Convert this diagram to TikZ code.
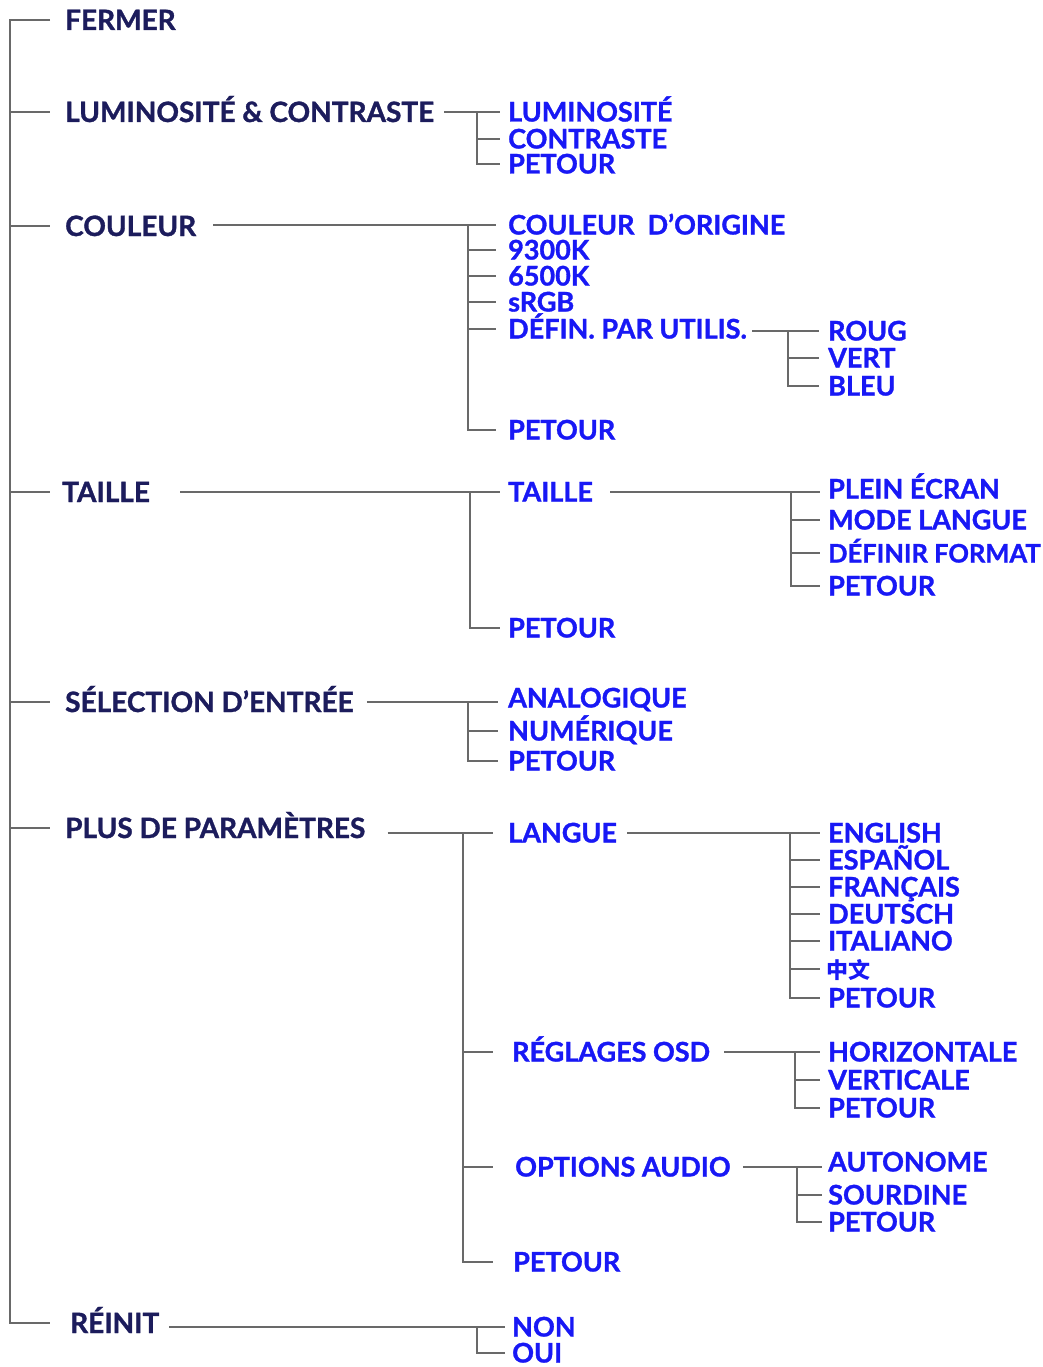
\documentclass[tikz,border=0pt]{standalone}
\usepackage{fontspec}
\setmainfont{Lato}[BoldFeatures={FakeBold=1.2}]
\newfontfamily\cjk{Noto Sans CJK SC}
\usetikzlibrary{calc}
\definecolor{navy}{RGB}{28,28,92}
\definecolor{menublue}{RGB}{24,24,245}
\definecolor{linegray}{RGB}{105,105,105}
\newcommand\apo{\char39\relax}
\newcommand\tbranch[3]{\draw[ln] (#1 |- #3.west) -- (#2 |- #3.west);}
\begin{document}
\begin{tikzpicture}[x=1pt,y=-1pt,
  ln/.style={draw=linegray,line width=1.8pt},
  txt/.style={anchor=west,inner sep=0pt,text depth=0pt},
  lvlone/.style={txt,text=navy,text height=20pt,font=\bfseries\fontsize{28}{28}\selectfont},
  lvltwo/.style={txt,text=menublue,text height=19pt,font=\bfseries\fontsize{27}{27}\selectfont}]
\path[use as bounding box] (0,0) rectangle (1042,1367);
\clip (0,0) rectangle (1042,1367);
% level 1
\node[lvlone] (fermer) at (65,20) {FERMER};
\node[lvlone] (lum) at (65,112) {LUMINOSITÉ \& CONTRASTE};
\node[lvlone] (couleur) at (65,226) {COULEUR};
\node[lvlone] (taille) at (62,492) {TAILLE};
\node[lvlone] (sel) at (65,702) {SÉLECTION D\apo ENTRÉE};
\node[lvlone] (plus) at (65,828) {PLUS DE PARAMÈTRES};
\node[lvlone] (reinit) at (70,1323) {RÉINIT};
% trunk
\coordinate (tx) at (10,0);
\coordinate (bx) at (50,0);
\draw[ln] (fermer.west -| bx) -- (fermer.west -| tx) -- (reinit.west -| tx) -- (reinit.west -| bx);
\foreach \n in {lum,couleur,taille,sel,plus}{\draw[ln] (\n.west -| tx) -- (\n.west -| bx);}
% luminosite group
\node[lvltwo] (lum1) at (508,112) {LUMINOSITÉ};
\node[lvltwo] (lum2) at (508,139) {CONTRASTE};
\node[lvltwo] (lum3) at (508,164) {PETOUR};
\coordinate (lv) at (477,0); \coordinate (le) at (500,0);
\draw[ln] ($(lum.east |- lum1.west)+(10,0)$) -- (le |- lum1.west);
\draw[ln] (lv |- lum1.west) -- (lv |- lum3.west) -- (le |- lum3.west);
\tbranch{lv}{le}{lum2}
% couleur group
\node[lvltwo] (co1) at (508,225) {COULEUR\ \ D\apo ORIGINE};
\node[lvltwo] (co2) at (508,250) {9300K};
\node[lvltwo] (co3) at (508,276) {6500K};
\node[lvltwo] (co4) at (508,302) {sRGB};
\node[lvltwo] (co5) at (508,329) {DÉFIN. PAR UTILIS.};
\node[lvltwo] (co6) at (508,430) {PETOUR};
\coordinate (cv) at (468,0); \coordinate (ce) at (496,0);
\draw[ln] ($(couleur.east |- co1.west)+(17,0)$) -- (ce |- co1.west);
\draw[ln] (cv |- co1.west) -- (cv |- co6.west) -- (ce |- co6.west);
\foreach \n in {co2,co3,co4,co5}{\tbranch{cv}{ce}{\n}}
% defin group
\node[lvltwo] (r1) at (828,331) {ROUG};
\node[lvltwo] (r2) at (828,358) {VERT};
\node[lvltwo] (r3) at (828,386) {BLEU};
\coordinate (rv) at (788,0); \coordinate (re) at (819,0);
\draw[ln] ($(co5.east |- r1.west)+(5,0)$) -- (re |- r1.west);
\draw[ln] (rv |- r1.west) -- (rv |- r3.west) -- (re |- r3.west);
\tbranch{rv}{re}{r2}
% taille group
\node[lvltwo] (ta1) at (508,492) {TAILLE};
\node[lvltwo] (ta2) at (508,628) {PETOUR};
\coordinate (tav) at (470,0); \coordinate (tae) at (500,0);
\draw[ln] ($(taille.east |- ta1.west)+(30,0)$) -- (tae |- ta1.west);
\draw[ln] (tav |- ta1.west) -- (tav |- ta2.west) -- (tae |- ta2.west);
% taille sub group
\node[lvltwo] (t1) at (828,489) {PLEIN ÉCRAN};
\node[lvltwo] (t2) at (828,520) {MODE LANGUE};
\node[lvltwo,font=\bfseries\fontsize{25.5}{25.5}\selectfont] (t3) at (828,553) {DÉFINIR FORMAT};
\node[lvltwo] (t4) at (828,586) {PETOUR};
\coordinate (tv) at (791,0); \coordinate (te) at (820,0);
\draw[ln] ($(ta1.east)+(17,0)$) -- (te |- ta1.west);
\draw[ln] (tv |- ta1.west) -- (tv |- t4.west) -- (te |- t4.west);
\foreach \n in {t2,t3}{\tbranch{tv}{te}{\n}}
% selection group
\node[lvltwo] (s1) at (508,698) {ANALOGIQUE};
\node[lvltwo] (s2) at (508,731) {NUMÉRIQUE};
\node[lvltwo] (s3) at (508,761) {PETOUR};
\coordinate (sv) at (468,0); \coordinate (se) at (498,0);
\draw[ln] ($(sel.east)+(13,0)$) -- (se |- sel.west);
\draw[ln] (sv |- sel.west) -- (sv |- s3.west) -- (se |- s3.west);
\tbranch{sv}{se}{s2}
% plus group
\node[lvltwo] (p1) at (508,833) {LANGUE};
\node[lvltwo] (p2) at (512,1052) {RÉGLAGES OSD};
\node[lvltwo] (p3) at (515,1167) {OPTIONS AUDIO};
\node[lvltwo] (p4) at (513,1262) {PETOUR};
\coordinate (pv) at (463,0); \coordinate (pe) at (493,0);
\draw[ln] ($(plus.east |- p1.west)+(22,0)$) -- (pe |- p1.west);
\draw[ln] (pv |- p1.west) -- (pv |- p4.west) -- (pe |- p4.west);
\foreach \n in {p2,p3}{\tbranch{pv}{pe}{\n}}
% langue group
\node[lvltwo] (l1) at (828,833) {ENGLISH};
\node[lvltwo] (l2) at (828,860) {ESPAÑOL};
\node[lvltwo] (l3) at (828,887) {FRANÇAIS};
\node[lvltwo] (l4) at (828,914) {DEUTSCH};
\node[lvltwo] (l5) at (828,941) {ITALIANO};
\node[lvltwo,font=\cjk\bfseries\fontsize{22}{22}\selectfont] (l6) at (826,969) {中文};
\node[lvltwo] (l7) at (828,998) {PETOUR};
\coordinate (lgv) at (790,0); \coordinate (lge) at (820,0);
\draw[ln] ($(p1.east)+(10,0)$) -- (lge |- p1.west);
\draw[ln] (lgv |- l1.west) -- (lgv |- l7.west) -- (lge |- l7.west);
\foreach \n in {l2,l3,l4,l5,l6}{\tbranch{lgv}{lge}{\n}}
% osd group
\node[lvltwo] (o1) at (828,1052) {HORIZONTALE};
\node[lvltwo] (o2) at (828,1080) {VERTICALE};
\node[lvltwo] (o3) at (828,1108) {PETOUR};
\coordinate (ov) at (795,0); \coordinate (oe) at (820,0);
\draw[ln] ($(p2.east)+(14,0)$) -- (oe |- p2.west);
\draw[ln] (ov |- p2.west) -- (ov |- o3.west) -- (oe |- o3.west);
\tbranch{ov}{oe}{o2}
% audio group
\node[lvltwo] (a1) at (828,1162) {AUTONOME};
\node[lvltwo] (a2) at (828,1195) {SOURDINE};
\node[lvltwo] (a3) at (828,1222) {PETOUR};
\coordinate (av) at (797,0); \coordinate (ae) at (822,0);
\draw[ln] ($(p3.east)+(12,0)$) -- (ae |- p3.west);
\draw[ln] (av |- p3.west) -- (av |- a3.west) -- (ae |- a3.west);
\tbranch{av}{ae}{a2}
% reinit group
\node[lvltwo] (n1) at (512,1327) {NON};
\node[lvltwo] (n2) at (512,1353) {OUI};
\coordinate (nv) at (477,0); \coordinate (ne) at (505,0);
\draw[ln] ($(reinit.east |- n1.west)+(10,0)$) -- (ne |- n1.west);
\draw[ln] (nv |- n1.west) -- (nv |- n2.west) -- (ne |- n2.west);
\end{tikzpicture}
\end{document}
